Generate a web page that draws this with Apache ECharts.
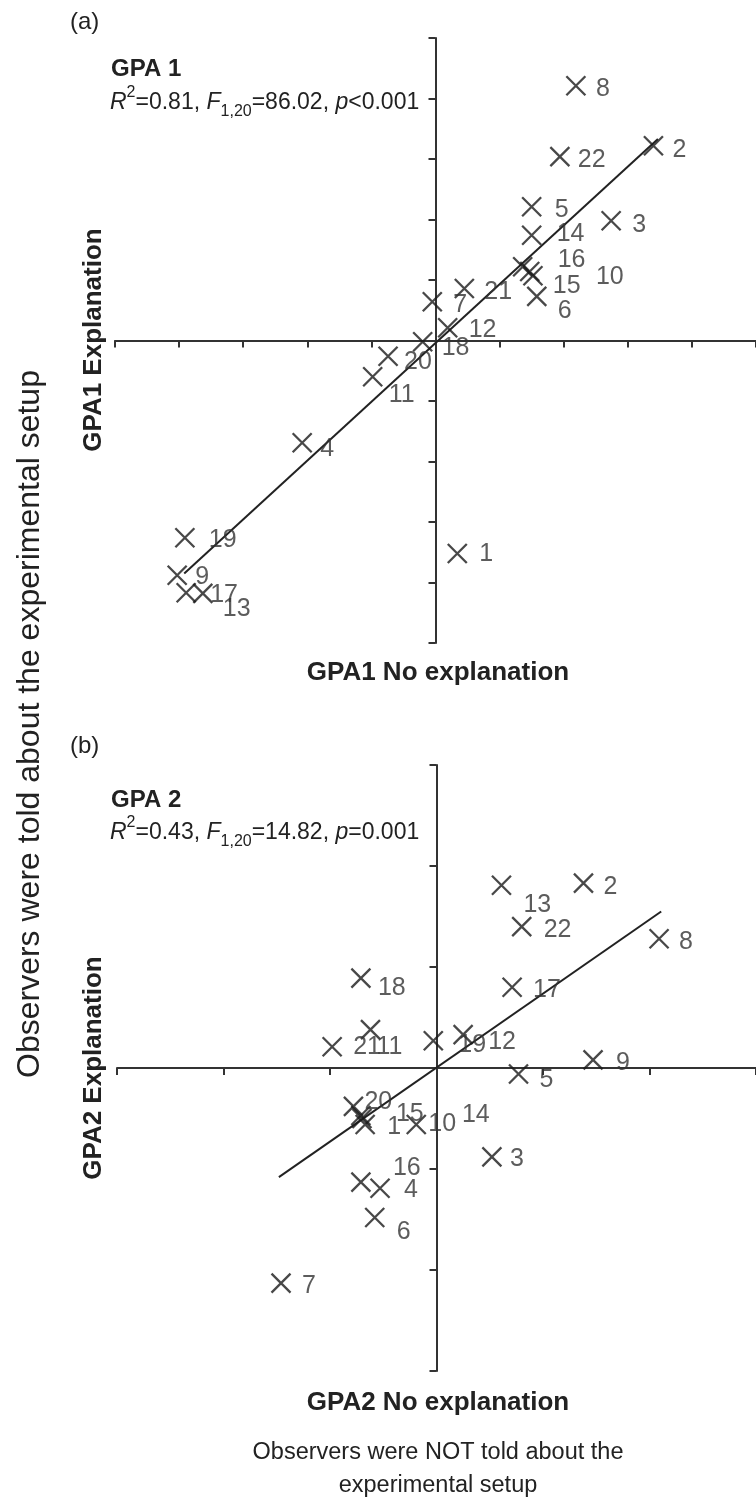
<!DOCTYPE html>
<html><head><meta charset="utf-8">
<script src="https://cdn.jsdelivr.net/npm/echarts@6.0.0/dist/echarts.min.js"></script>
<style>html,body{margin:0;padding:0;background:#fff}#c{width:756px;height:1509px}</style>
</head><body><div id="c"></div>
<script>
// ---- data ----
const pointIds = ['1','2','3','4','5','6','7','8','9','10','11','12','13','14','15','16','17','18','19','20','21','22'];
// Panel (a) GPA 1
const gpa1NoExpl = [0.34, 3.40, 2.74, -2.08, 1.50, 1.58, -0.05, 2.19, -4.03, 1.52, -0.98, 0.19, -3.63, 1.50, 1.47, 1.36, -3.89, -0.20, -3.91, -0.74, 0.45, 1.94];
const gpa1Expl   = [-3.52, 3.22, 1.98, -1.69, 2.21, 0.73, 0.64, 4.21, -3.88, 1.07, -0.60, 0.21, -4.18, 1.74, 1.14, 1.22, -4.17, -0.02, -3.26, -0.26, 0.86, 3.04];
const fit1X = [-3.92, 3.47];
const fit1Y = [-3.85, 3.33];
// Panel (b) GPA 2
const gpa2NoExpl = [-0.67, 1.38, 0.52, -0.53, 0.77, -0.58, -1.46, 2.09, 1.47, -0.19, -0.62, 0.25, 0.61, -0.71, -0.70, -0.71, 0.71, -0.71, -0.03, -0.78, -0.98, 0.80];
const gpa2Expl   = [-0.56, 1.83, -0.88, -1.19, -0.06, -1.48, -2.13, 1.28, 0.08, -0.56, 0.38, 0.33, 1.81, -0.47, -0.50, -1.13, 0.80, 0.89, 0.27, -0.38, 0.21, 1.40];
const fit2X = [-1.48, 2.11];
const fit2Y = [-1.08, 1.55];
const axisTicksA = [-5, 5, 1];
const axisTicksB = [-3, 3, 1];

// ---- label placement styles (pixel nudges) ----
const labelShiftA = {
  '1':[2,1],'2':[-1,4],'3':[1,4],'4':[-2,6],'5':[3,3],'6':[1,15],'7':[1,3],'8':[0,3],'9':[-2,2],'10':[43,1],
  '11':[-4,18],'12':[1,2],'13':[0,16],'14':[5,-1],'15':[3,15],'16':[15,-7],'17':[4,2],'18':[-1,6],'19':[4,2],
  '20':[-4,6],'21':[0,4],'22':[-2,4]
};
const labelShiftB = {
  '1':[2,3],'2':[0,4],'3':[-2,2],'4':[4,2],'5':[1,6],'6':[2,15],'7':[1,3],'8':[0,3],'9':[3,3],'10':[-8,0],
  '11':[-14,17],'12':[5,7],'13':[2,20],'14':[81,0],'15':[14,-4],'16':[12,-14],'17':[1,3],'18':[-3,10],'19':[5,4],
  '20':[-9,-4],'21':[1,0],'22':[2,4]
};

const FONT = '"Liberation Sans", Arial, sans-serif';
const INK = '#222';

function scatterData(xs, ys, shifts) {
  return pointIds.map((id, i) => ({
    value: [xs[i], ys[i]],
    name: id,
    label: { offset: shifts[id] || [0, 3] }
  }));
}
function lineData(xs, ys) { return xs.map((x, i) => [x, ys[i]]); }

function axis(gridIndex, t) {
  return {
    gridIndex, type: 'value', min: t[0], max: t[1], interval: t[2],
    axisLine: { show: true, onZero: true, lineStyle: { color: '#333', width: 2 } },
    axisTick: { show: true, length: 7, lineStyle: { color: '#333', width: 2 } },
    axisLabel: { show: false }, splitLine: { show: false }
  };
}

const xMark = 'path://M0,0L20,20M20,0L0,20';
function scatterSeries(idx, data) {
  return {
    type: 'scatter', xAxisIndex: idx, yAxisIndex: idx, data,
    symbol: xMark, symbolSize: 19,
    itemStyle: { color: 'none', borderColor: '#1a1a1a', borderWidth: 2.3 },
    label: {
      show: true, position: 'right', distance: 8,
      formatter: p => p.name,
      fontFamily: FONT, fontSize: 25, color: '#333'
    },
    emphasis: { disabled: true }, z: 3
  };
}
function fitSeries(idx, data) {
  return {
    type: 'line', xAxisIndex: idx, yAxisIndex: idx, data,
    showSymbol: false, lineStyle: { color: INK, width: 2 }, z: 2, silent: true
  };
}

function statsText(x, y, r2, f, pPart) {
  return {
    type: 'text', left: x, top: y,
    style: {
      text: `{i|R}{sup|2}{n|=${r2}, }{i|F}{sub|1,20}{n|=${f}, }{i|p}{n|${pPart}}`,
      fill: INK, font: `23px ${FONT}`,
      rich: {
        n: { fontSize: 23, fontFamily: FONT, fill: INK, lineHeight: 35, verticalAlign: 'middle' },
        i: { fontSize: 23, fontFamily: FONT, fontStyle: 'italic', fill: INK, lineHeight: 35, verticalAlign: 'middle' },
        sup: { fontSize: 16, fontFamily: FONT, fill: INK, lineHeight: 35, verticalAlign: 'top' },
        sub: { fontSize: 16, fontFamily: FONT, fill: INK, lineHeight: 35, verticalAlign: 'bottom' }
      }
    }
  };
}
function txt(x, y, s, size, bold, align, rot) {
  return {
    type: 'text', x, y, rotation: rot || 0,
    style: { text: s, fill: INK, font: `${bold ? 'bold ' : ''}${size}px ${FONT}`, align: align || 'left', verticalAlign: 'middle' }
  };
}

const chart = echarts.init(document.getElementById('c'));
chart.setOption({
  animation: false,
  backgroundColor: '#fff',
  grid: [
    { left: 115, top: 38, width: 643, height: 605 },
    { left: 117, top: 765, width: 646, height: 606 }
  ],
  xAxis: [axis(0, axisTicksA), axis(1, axisTicksB)],
  yAxis: [axis(0, axisTicksA), axis(1, axisTicksB)],
  series: [
    fitSeries(0, lineData(fit1X, fit1Y)),
    scatterSeries(0, scatterData(gpa1NoExpl, gpa1Expl, labelShiftA)),
    fitSeries(1, lineData(fit2X, fit2Y)),
    scatterSeries(1, scatterData(gpa2NoExpl, gpa2Expl, labelShiftB))
  ],
  graphic: [
    txt(70, 22, '(a)', 24, false),
    txt(111, 69, 'GPA 1', 24, true),
    statsText(110, 85, '0.81', '86.02', '<0.001'),
    txt(94, 340, 'GPA1 Explanation', 26, true, 'center', Math.PI / 2),
    txt(438, 673, 'GPA1 No explanation', 26, true, 'center'),
    txt(70, 746, '(b)', 24, false),
    txt(111, 800, 'GPA 2', 24, true),
    statsText(110, 815, '0.43', '14.82', '=0.001'),
    txt(94, 1068, 'GPA2 Explanation', 26, true, 'center', Math.PI / 2),
    txt(438, 1403, 'GPA2 No explanation', 26, true, 'center'),
    txt(30, 724, 'Observers were told about the experimental setup', 32, false, 'center', Math.PI / 2),
    txt(438, 1453, 'Observers were NOT told about the', 23.5, false, 'center'),
    txt(438, 1486, 'experimental setup', 23.5, false, 'center')
  ]
});
</script>
</body></html>
